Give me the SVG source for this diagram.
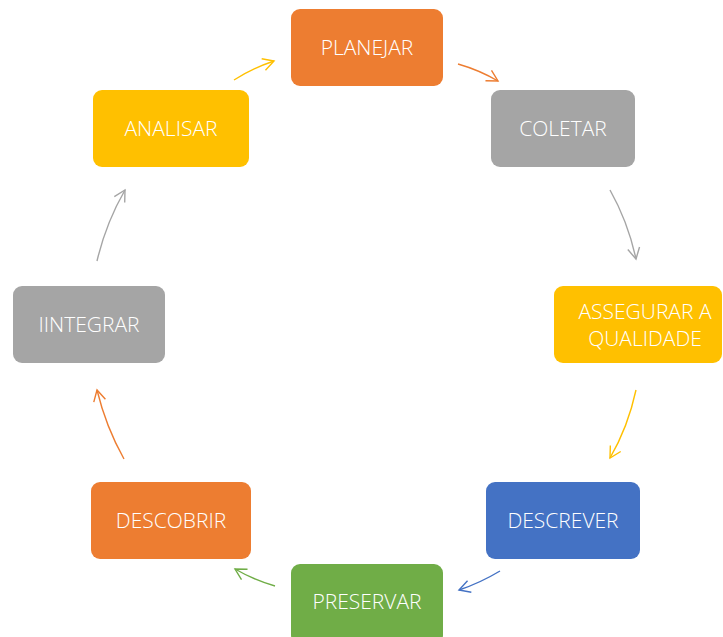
<svg xmlns="http://www.w3.org/2000/svg" width="723" height="637" viewBox="0 0 723 637">
<style>
.n{stroke:none}
.t{font-family:"Open Sans","Liberation Sans",sans-serif;font-size:21px;font-weight:300;fill:#fff;text-anchor:middle;dominant-baseline:central}
.c{fill:none;stroke-width:1.4}
</style>
<defs>
<marker id="mY" viewBox="-12 -7 14 14" markerWidth="14" markerHeight="14" markerUnits="userSpaceOnUse" orient="auto"><path d="M-11,-6 L0,0 L-11,6" fill="none" stroke="#FFC000" stroke-width="1.4"/></marker>
<marker id="mO" viewBox="-12 -7 14 14" markerWidth="14" markerHeight="14" markerUnits="userSpaceOnUse" orient="auto"><path d="M-11,-6 L0,0 L-11,6" fill="none" stroke="#ED7D31" stroke-width="1.4"/></marker>
<marker id="mG" viewBox="-12 -7 14 14" markerWidth="14" markerHeight="14" markerUnits="userSpaceOnUse" orient="auto"><path d="M-11,-6 L0,0 L-11,6" fill="none" stroke="#A5A5A5" stroke-width="1.4"/></marker>
<marker id="mB" viewBox="-12 -7 14 14" markerWidth="14" markerHeight="14" markerUnits="userSpaceOnUse" orient="auto"><path d="M-11,-6 L0,0 L-11,6" fill="none" stroke="#4472C4" stroke-width="1.4"/></marker>
<marker id="mN" viewBox="-12 -7 14 14" markerWidth="14" markerHeight="14" markerUnits="userSpaceOnUse" orient="auto"><path d="M-11,-6 L0,0 L-11,6" fill="none" stroke="#70AD47" stroke-width="1.4"/></marker>
</defs>
<g id="connectors">
<path class="c" stroke="#FFC000" marker-end="url(#mY)" d="M234,80 Q253,68 274,61"/>
<path class="c" stroke="#ED7D31" marker-end="url(#mO)" d="M458,64 Q479,70 498,81"/>
<path class="c" stroke="#A5A5A5" marker-end="url(#mG)" d="M610,190 Q628,222 636,259"/>
<path class="c" stroke="#FFC000" marker-end="url(#mY)" d="M636,390 Q628,427 610,458"/>
<path class="c" stroke="#4472C4" marker-end="url(#mB)" d="M500,571 Q480,583 459,590"/>
<path class="c" stroke="#70AD47" marker-end="url(#mN)" d="M275,586 Q254,580 235,569"/>
<path class="c" stroke="#ED7D31" marker-end="url(#mO)" d="M124,459 Q106,427 97,390"/>
<path class="c" stroke="#A5A5A5" marker-end="url(#mG)" d="M97,261 Q106,223 125,190"/>
</g>
<g id="planejar"><rect class="n" x="291" y="9" width="152" height="77" rx="9" fill="#ED7D31"/><text class="t" x="367" y="47">PLANEJAR</text></g>
<g id="coletar"><rect class="n" x="491" y="90" width="144" height="77" rx="9" fill="#A5A5A5"/><text class="t" x="563" y="128">COLETAR</text></g>
<g id="assegurar"><rect class="n" x="554" y="286" width="168" height="77" rx="9" fill="#FFC000"/><text class="t" x="645" y="311">ASSEGURAR A</text><text class="t" x="645" y="338">QUALIDADE</text></g>
<g id="descrever"><rect class="n" x="486" y="482" width="154" height="77" rx="9" fill="#4472C4"/><text class="t" x="563" y="520">DESCREVER</text></g>
<g id="preservar"><rect class="n" x="291" y="564" width="152" height="80" rx="9" fill="#70AD47"/><text class="t" x="367" y="601">PRESERVAR</text></g>
<g id="descobrir"><rect class="n" x="91" y="482" width="160" height="77" rx="9" fill="#ED7D31"/><text class="t" x="171" y="520">DESCOBRIR</text></g>
<g id="integrar"><rect class="n" x="13" y="286" width="152" height="77" rx="9" fill="#A5A5A5"/><text class="t" x="89" y="324">IINTEGRAR</text></g>
<g id="analisar"><rect class="n" x="93" y="90" width="156" height="77" rx="9" fill="#FFC000"/><text class="t" x="171" y="128">ANALISAR</text></g>
</svg>
